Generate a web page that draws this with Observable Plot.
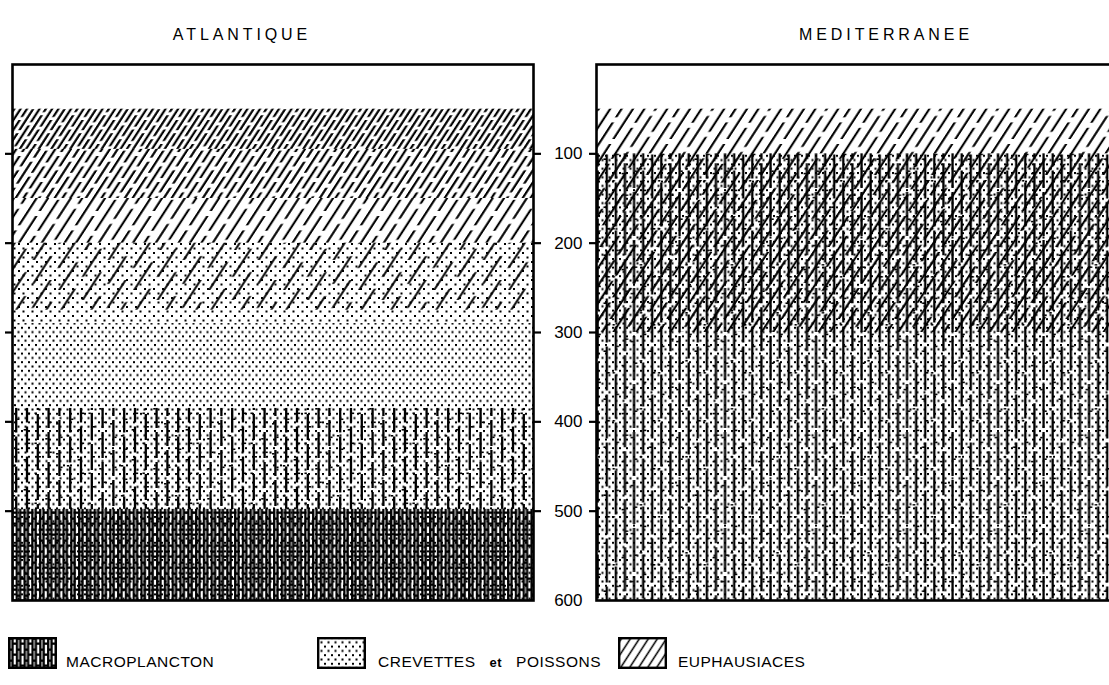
<!DOCTYPE html>
<html><head><meta charset="utf-8">
<script src="https://cdn.jsdelivr.net/npm/d3@7"></script>
<script src="https://cdn.jsdelivr.net/npm/@observablehq/plot@0.6"></script>
<style>
html,body{margin:0;padding:0;background:#fff;overflow:hidden;width:1109px;height:685px}
#chart svg{display:block;max-width:none}
#legend{position:relative;height:73px;font-family:"Liberation Sans",Arial,sans-serif;font-size:15.5px;color:#000}
.lg-box{position:absolute;top:25px;width:49px;height:32px;display:block}
.lg-label{position:absolute;top:42px;letter-spacing:0.5px;line-height:15px;white-space:nowrap}
.lg-label b{font-size:13px;margin:0 14px}
</style></head>
<body>
<svg id="defs" width="0" height="0" style="position:absolute;left:0;top:0"><defs></defs></svg>
<div id="chart"></div>
<div id="legend"></div>
<script>
// ---- data ----
const oceans = ["ATLANTIQUE", "MEDITERRANEE"];
const groups = ["MACROPLANCTON", "CREVETTES et POISSONS", "EUPHAUSIACES"];
const depthTicks = [100, 200, 300, 400, 500];
const depthLabels = [100, 200, 300, 400, 500, 600];

// depth bands (m) occupied by each group, with relative abundance level
const bandOcean  = ["ATLANTIQUE","ATLANTIQUE","ATLANTIQUE","ATLANTIQUE","ATLANTIQUE","ATLANTIQUE","ATLANTIQUE","ATLANTIQUE","MEDITERRANEE","MEDITERRANEE","MEDITERRANEE"];
const bandGroup  = ["CREVETTES et POISSONS","CREVETTES et POISSONS","MACROPLANCTON","MACROPLANCTON","EUPHAUSIACES","EUPHAUSIACES","EUPHAUSIACES","EUPHAUSIACES","CREVETTES et POISSONS","MACROPLANCTON","EUPHAUSIACES"];
const bandTop    = [200, 290, 385, 498,  50,  95, 150, 200, 100, 100,  50];
const bandBottom = [290, 600, 498, 600,  95, 150, 200, 275, 600, 600, 300];
const bandLevel  = [  1,   2,   1,   3,   4,   3,   2,   1,   2,   2,   2];

// ---- patterns (styles) ----
const groupKey = {"MACROPLANCTON": "macro", "CREVETTES et POISSONS": "dots", "EUPHAUSIACES": "hatch"};
const defs = d3.select("#defs defs");
function pat(id, w, h, transform) {
  const p = defs.append("pattern").attr("id", id).attr("patternUnits", "userSpaceOnUse")
    .attr("width", w).attr("height", h);
  if (transform) p.attr("patternTransform", transform);
  return p;
}
// n staggered dashed lines per tile so that the breaks do not line up
function lines(p, s, h, sw, dash, n) {
  for (let k = 0; k < n; k++) {
    const x = s * (k + 0.5);
    p.append("line").attr("x1", x).attr("x2", x).attr("y1", 0).attr("y2", h)
      .attr("stroke", "#000").attr("stroke-width", sw).attr("stroke-dasharray", dash)
      .attr("stroke-dashoffset", (h * [0, 0.45, 0.78, 0.2, 0.6][k % 5]).toFixed(1));
  }
}
function hatch(id, s, h, sw, dash) {
  const n = 5;
  const p = pat(id, s * n, h, "skewX(-33)");
  lines(p, s, h, sw, dash, n);
}
function dots(id, w, h, r) {
  const p = pat(id, w, h);
  p.append("rect").attr("x", 0).attr("y", 0).attr("width", r).attr("height", r).attr("fill", "#000");
  p.append("rect").attr("x", w / 2).attr("y", h / 2).attr("width", r).attr("height", r).attr("fill", "#000");
}
function vert(id, s, h, sw, dash) {
  const n = 5;
  const p = pat(id, s * n, h);
  lines(p, s, h, sw, dash, n);
  for (let k = 0; k < n; k++) {
    const x = s * (k + 0.5);
    const f = [0.1, 0.5, 0.3, 0.75, 0.6][k];
    p.append("rect").attr("x", x - sw / 2 - 2.2).attr("y", h * f).attr("width", 2.4).attr("height", 1.6).attr("fill", "#000");
    p.append("rect").attr("x", x + sw / 2 - 0.2).attr("y", h * ((f + 0.45) % 1)).attr("width", 2.2).attr("height", 1.6).attr("fill", "#000");
  }
}
function brick(id, w, h, sw) {
  const p = pat(id, w, h);
  const a = 1.2, b = w / 2 + 0.6;
  p.append("rect").attr("x", a - sw / 2).attr("y", 0).attr("width", sw).attr("height", h).attr("fill", "#000");
  p.append("rect").attr("x", b - sw / 2).attr("y", 0).attr("width", sw).attr("height", h).attr("fill", "#000");
  p.append("rect").attr("x", a).attr("y", 0.5).attr("width", b - a).attr("height", sw).attr("fill", "#000");
  p.append("rect").attr("x", b).attr("y", h / 2).attr("width", w - b).attr("height", sw).attr("fill", "#000");
  p.append("rect").attr("x", 0).attr("y", h / 2).attr("width", a).attr("height", sw).attr("fill", "#000");
}
hatch("p-hatch-4", 6.3, 24, 2.6, "21 3");
hatch("p-hatch-3", 7.8, 26, 2.6, "22 4");
hatch("p-hatch-2", 11.4, 36, 2.5, "31 5");
hatch("p-hatch-1", 15, 40, 2.3, "28 12");
hatch("p-hatch-legend", 9, 40, 1.8, "40 0");
dots("p-dots-1", 9, 9, 2.0);
dots("p-dots-2", 7, 8.6, 2.0);
vert("p-macro-1", 10.8, 30, 2.3, "26 4");
vert("p-macro-2", 9.1, 48, 2.3, "44 4");
brick("p-macro-3", 7.8, 11, 2.3);

const order = ["CREVETTES et POISSONS", "MACROPLANCTON", "EUPHAUSIACES"];
const bands = bandOcean.map((o, i) => ({
  ocean: o, group: bandGroup[i], top: bandTop[i], bottom: bandBottom[i], level: bandLevel[i]
})).sort((a, b) => order.indexOf(a.group) - order.indexOf(b.group));

const font = "'Liberation Sans', Arial, sans-serif";

const chart = Plot.plot({
  width: 1117,
  height: 612,
  marginLeft: 12,
  marginRight: 0,
  marginTop: 64,
  marginBottom: 12,
  style: {fontFamily: font, fontSize: "17px", color: "#000", background: "#fff", maxWidth: "none"},
  fx: {domain: oceans, paddingInner: 0.1079, paddingOuter: 0, axis: null, label: null},
  y: {domain: [0, 600], reverse: true, axis: null, label: null},
  color: {type: "identity"},
  marks: [
    Plot.rect(bands, {
      fx: "ocean", y1: "top", y2: "bottom",
      fill: d => `url(#p-${groupKey[d.group]}-${d.level})`
    }),
    Plot.frame({stroke: "#000", strokeWidth: 2.6}),
    Plot.axisY(depthTicks, {anchor: "left", facetAnchor: null, tickSize: 7, strokeWidth: 2.2, tickFormat: () => "", label: null}),
    Plot.axisY(depthTicks, {anchor: "right", facetAnchor: null, tickSize: 7, strokeWidth: 2.2, tickFormat: () => "", label: null}),
    Plot.axisY(depthLabels, {anchor: "left", facetAnchor: "right", tickSize: 0, tickPadding: 14, fontSize: 17, label: null}),
    Plot.text([oceans[0]], {fx: d => d, text: d => d, frameAnchor: "top", dy: -36, dx: -31, fontSize: 16, fill: "#000"}),
    Plot.text([oceans[1]], {fx: d => d, text: d => d, frameAnchor: "top", dy: -36, dx: 29, fontSize: 16, fill: "#000"})
  ]
});
d3.select(chart).selectAll("text").filter(function() { return /^[A-Z]+$/.test(this.textContent); })
  .attr("letter-spacing", "3.9px");
document.getElementById("chart").appendChild(chart);

// ---- legend ----
const legendPattern = {"MACROPLANCTON": "p-macro-3", "CREVETTES et POISSONS": "p-dots-2", "EUPHAUSIACES": "p-hatch-legend"};
const legendBoxX = [8, 317, 618];
const legendLabelX = [66, 378, 678];
const legend = d3.select("#legend");
groups.forEach((g, i) => {
  const svg = legend.append("svg").attr("class", "lg-box").attr("width", 49).attr("height", 32)
    .style("left", legendBoxX[i] + "px");
  svg.append("rect").attr("x", 1.2).attr("y", 1.2).attr("width", 46.6).attr("height", 29.6)
    .attr("fill", "#fff").attr("stroke", "none");
  svg.append("rect").attr("x", 1.2).attr("y", 1.2).attr("width", 46.6).attr("height", 29.6)
    .attr("fill", `url(#${legendPattern[g]})`).attr("stroke", "#000").attr("stroke-width", 2.4);
  const lab = legend.append("div").attr("class", "lg-label").style("left", legendLabelX[i] + "px");
  if (g.includes(" et ")) {
    const [a, b] = g.split(" et ");
    lab.html(`${a}<b>et</b>${b}`);
  } else lab.text(g);
});
</script>
</body></html>
